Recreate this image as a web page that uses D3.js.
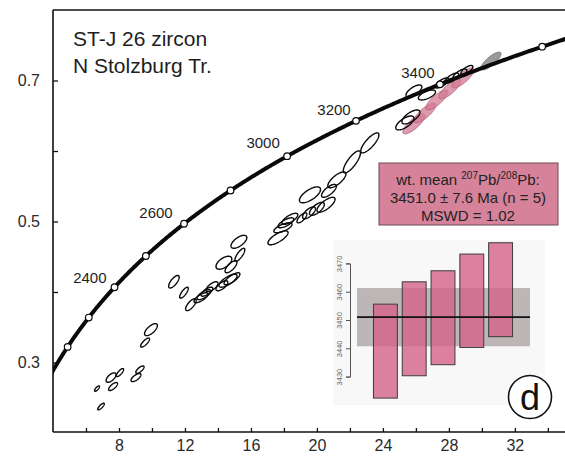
<!DOCTYPE html>
<html>
<head>
<meta charset="utf-8">
<script src="https://cdn.jsdelivr.net/npm/d3@7/dist/d3.min.js"></script>
<style>
  html, body { margin: 0; padding: 0; background: #fff; }
  svg { display: block; font-family: "Liberation Sans", Arial, Helvetica, sans-serif; }
</style>
</head>
<body>
<svg id="chart" width="565" height="465"></svg>
<script>
// U decay constants (1/yr)
const LAMBDA_238 = 1.55125e-10;
const LAMBDA_235 = 9.8485e-10;

// axes
const xTicks = [6, 8, 10, 12, 14, 16, 18, 20, 22, 24, 26, 28, 30, 32, 34];
const xLabels = [8, 12, 16, 20, 24, 28, 32];
const yTicks = [0.3, 0.4, 0.5, 0.6, 0.7];
const yLabels = [0.3, 0.5, 0.7];

// concordia age marks (Ma)
const concordiaMarkAges = [1800, 2000, 2200, 2400, 2600, 2800, 3000, 3200, 3400, 3600];
const concordiaLabelAges = [2400, 2600, 3000, 3200, 3400];

// analyses: [207Pb/235U, 206Pb/238U, err 207/235, err 206/238, rho]
const grainsOpen = [
  [6.91, 0.2375, 0.20, 0.0047, 0.80],
  [6.67, 0.2630, 0.15, 0.0038, 0.75],
  [7.64, 0.2659, 0.27, 0.0057, 0.72],
  [7.52, 0.2786, 0.30, 0.0067, 0.62],
  [8.06, 0.2857, 0.22, 0.0057, 0.78],
  [9.03, 0.2786, 0.30, 0.0057, 0.68],
  [9.27, 0.2899, 0.25, 0.0052, 0.72],
  [9.58, 0.3282, 0.27, 0.0064, 0.78],
  [9.94, 0.3466, 0.39, 0.0085, 0.68],
  [11.33, 0.4146, 0.32, 0.0089, 0.72],
  [11.94, 0.3990, 0.26, 0.0078, 0.78],
  [12.36, 0.3820, 0.32, 0.0085, 0.72],
  [12.97, 0.3919, 0.42, 0.0071, 0.72],
  [13.15, 0.3962, 0.42, 0.0071, 0.72],
  [13.33, 0.4004, 0.36, 0.0064, 0.72],
  [13.64, 0.4075, 0.36, 0.0071, 0.68],
  [14.24, 0.4089, 0.36, 0.0071, 0.68],
  [14.61, 0.4160, 0.55, 0.0092, 0.74],
  [14.85, 0.4188, 0.48, 0.0085, 0.78],
  [14.36, 0.4415, 0.48, 0.0092, 0.58],
  [14.79, 0.4358, 0.36, 0.0085, 0.72],
  [15.33, 0.4528, 0.30, 0.0092, 0.78],
  [15.27, 0.4712, 0.48, 0.0092, 0.64],
  [17.64, 0.4769, 0.61, 0.0099, 0.74],
  [17.94, 0.4911, 0.55, 0.0071, 0.68],
  [18.12, 0.4982, 0.48, 0.0071, 0.72],
  [18.36, 0.5038, 0.48, 0.0078, 0.72],
  [19.09, 0.5052, 0.30, 0.0071, 0.72],
  [19.52, 0.5123, 0.39, 0.0085, 0.68],
  [20.00, 0.5180, 0.45, 0.0092, 0.68],
  [20.55, 0.5237, 0.55, 0.0106, 0.74],
  [19.58, 0.5378, 0.64, 0.0113, 0.68],
  [20.73, 0.5435, 0.45, 0.0092, 0.72],
  [21.21, 0.5591, 0.55, 0.0113, 0.74],
  [22.12, 0.5846, 0.52, 0.0156, 0.80],
  [23.21, 0.6115, 0.55, 0.0142, 0.80],
  [25.33, 0.6398, 0.55, 0.0099, 0.68],
  [25.70, 0.6483, 0.55, 0.0099, 0.68],
  [25.88, 0.6851, 0.48, 0.0085, 0.68],
  [26.67, 0.6795, 0.52, 0.0071, 0.62],
  [27.58, 0.6965, 0.42, 0.0071, 0.72],
  [28.18, 0.7035, 0.42, 0.0071, 0.72],
  [28.67, 0.7092, 0.42, 0.0071, 0.72],
  [29.09, 0.7149, 0.36, 0.0064, 0.72]
];
// analyses used in the weighted mean
const grainsMean = [
  [25.88, 0.6384, 0.67, 0.0142, 0.80],
  [26.55, 0.6540, 0.67, 0.0142, 0.80],
  [27.27, 0.6724, 0.67, 0.0142, 0.80],
  [28.06, 0.6880, 0.67, 0.0142, 0.80],
  [28.85, 0.7035, 0.67, 0.0142, 0.80]
];
const grainsGrey = [
  [30.55, 0.7276, 0.61, 0.0127, 0.80]
];

// weighted mean 207Pb/206Pb ages (Ma), 2 sigma
const barAges = [3439.0, 3446.9, 3450.8, 3456.8, 3460.7];
const barErrs = [16.6, 16.6, 16.6, 16.5, 16.6];
const meanAge = 3451.0;
const meanErr = 7.6;
const meanConf95 = 10.3;
const mswd = 1.02;
const insetTicks = [3430, 3440, 3450, 3460, 3470];

const svg = d3.select("#chart");
const W = 565, H = 465;
const plot = { left: 53, top: 10, right: 566, bottom: 433 };

const x = d3.scaleLinear().domain([4, 35.1]).range([plot.left, plot.right]);
const y = d3.scaleLinear().domain([0.2, 0.8]).range([plot.bottom, plot.top]);

svg.append("rect").attr("width", W).attr("height", H).attr("fill", "#fff");

svg.append("defs").append("clipPath").attr("id", "plotClip")
  .append("rect")
  .attr("x", plot.left).attr("y", plot.top)
  .attr("width", plot.right - plot.left).attr("height", plot.bottom - plot.top);

// faint panel behind the inset
svg.append("rect")
  .attr("x", 333).attr("y", 240).attr("width", 212).attr("height", 165)
  .attr("fill", "#f9f8f8");

// frame lines
const axisY = y(0.2) - 1;
svg.append("line").attr("x1", plot.left).attr("x2", W).attr("y1", plot.top).attr("y2", plot.top)
  .attr("stroke", "#111").attr("stroke-width", 1.6);

// x axis
const xAxis = d3.axisBottom(x)
  .tickValues(xTicks)
  .tickSizeInner(-4).tickSizeOuter(0).tickPadding(8)
  .tickFormat(d => xLabels.includes(d) ? d : "");
const gx = svg.append("g").attr("transform", `translate(0,${axisY})`).call(xAxis);
gx.select(".domain").attr("stroke", "#111").attr("stroke-width", 1.6)
  .attr("d", `M${plot.left},0H${W}`);
gx.selectAll(".tick line").attr("stroke", "#111").attr("stroke-width", 1.3);
gx.selectAll(".tick text").attr("font-size", 16).attr("fill", "#2a2a2a")
  .attr("font-family", "Liberation Sans, Arial, sans-serif");

// y axis
const yAxis = d3.axisLeft(y)
  .tickValues(yTicks)
  .tickSizeInner(-5).tickSizeOuter(0).tickPadding(13)
  .tickFormat(d => yLabels.some(v => Math.abs(v - d) < 1e-9) ? d3.format(".1f")(d) : "");
const gy = svg.append("g").attr("transform", `translate(${plot.left},0)`).call(yAxis);
gy.select(".domain").attr("stroke", "#111").attr("stroke-width", 1.6)
  .attr("d", `M0,${plot.top}V${axisY}`);
gy.selectAll(".tick line").attr("stroke", "#111").attr("stroke-width", 1.3);
gy.selectAll(".tick text").attr("font-size", 16).attr("fill", "#2a2a2a")
  .attr("font-family", "Liberation Sans, Arial, sans-serif");

// title
const title = svg.append("g").attr("font-size", 21).attr("fill", "#1e1e1e");
title.append("text").attr("x", 73).attr("y", 46).text("ST-J 26 zircon");
title.append("text").attr("x", 73).attr("y", 73).text("N Stolzburg Tr.");

// error ellipse outline from correlated errors
function ellipsePoints(d) {
  const [cx, cy, sx, sy, r] = d;
  const k = Math.sqrt(1 - r * r);
  return d3.range(72).map(i => {
    const t = i / 72 * 2 * Math.PI;
    return [cx + sx * Math.cos(t), cy + sy * (r * Math.cos(t) + k * Math.sin(t))];
  });
}
const ellLine = d3.line().x(p => x(p[0])).y(p => y(p[1])).curve(d3.curveLinearClosed);

const dataLayer = svg.append("g").attr("clip-path", "url(#plotClip)");

// mean-group and grey analyses
dataLayer.append("g").selectAll("path").data(grainsGrey).join("path")
  .attr("d", d => ellLine(ellipsePoints(d)))
  .attr("fill", "#8f8f8f").attr("fill-opacity", 0.9)
  .attr("stroke", "#6f6f6f").attr("stroke-width", 0.8);
dataLayer.append("g").selectAll("path").data(grainsMean).join("path")
  .attr("d", d => ellLine(ellipsePoints(d)))
  .attr("fill", "#d27a93").attr("fill-opacity", 0.75)
  .attr("stroke", "#b5637b").attr("stroke-width", 0.8);

// concordia
const concordia = t => [Math.exp(LAMBDA_235 * t * 1e6) - 1, Math.exp(LAMBDA_238 * t * 1e6) - 1];
const curveAges = d3.range(1500, 3720, 5);
dataLayer.append("path")
  .datum(curveAges.map(concordia))
  .attr("d", d3.line().x(p => x(p[0])).y(p => y(p[1])).curve(d3.curveBasis))
  .attr("fill", "none").attr("stroke", "#0a0a0a").attr("stroke-width", 4);

// open analyses
dataLayer.append("g").selectAll("path").data(grainsOpen).join("path")
  .attr("d", d => ellLine(ellipsePoints(d)))
  .attr("fill", "none").attr("stroke", "#0a0a0a").attr("stroke-width", 1.4);

// concordia age marks
dataLayer.append("g").selectAll("circle").data(concordiaMarkAges).join("circle")
  .attr("cx", t => x(concordia(t)[0]))
  .attr("cy", t => y(concordia(t)[1]))
  .attr("r", 3.3)
  .attr("fill", "#fff").attr("stroke", "#0a0a0a").attr("stroke-width", 1.2);

// age labels, offset from their marks
const labelOffset = { 2400: [-56, 27], 2600: [-28, -6], 3000: [-24, -8], 3200: [-22, -6], 3400: [-22, -6] };
svg.append("g").selectAll("text").data(concordiaLabelAges).join("text")
  .attr("x", t => x(concordia(t)[0]) + labelOffset[t][0])
  .attr("y", t => y(concordia(t)[1]) + labelOffset[t][1])
  .attr("text-anchor", "middle")
  .attr("font-size", 15).attr("fill", "#1e1e1e")
  .text(t => t);

// result box
const box = svg.append("g");
box.append("rect").attr("x", 379).attr("y", 163).attr("width", 179).attr("height", 62)
  .attr("fill", "#d6829a").attr("stroke", "#6a4a52").attr("stroke-width", 1);
const bt = box.append("g").attr("font-size", 15).attr("fill", "#222").attr("text-anchor", "middle");
const l1 = bt.append("text").attr("x", 468).attr("y", 185);
l1.append("tspan").text("wt. mean ");
l1.append("tspan").attr("font-size", 10).attr("dy", -6).text("207");
l1.append("tspan").attr("dy", 6).text("Pb/");
l1.append("tspan").attr("font-size", 10).attr("dy", -6).text("208");
l1.append("tspan").attr("dy", 6).text("Pb:");
bt.append("text").attr("x", 468).attr("y", 203)
  .text(`${meanAge.toFixed(1)} \u00b1 ${meanErr.toFixed(1)} Ma (n = ${barAges.length})`);
bt.append("text").attr("x", 468).attr("y", 221).text(`MSWD = ${mswd.toFixed(2)}`);

// inset: weighted mean bars
const iy = d3.scaleLinear().domain([3430, 3470]).range([376.6, 263.4]);
const ix = d3.scaleBand().domain(d3.range(barAges.length)).range([371, 515])
  .paddingInner(0.17).paddingOuter(0.085);
const inset = svg.append("g");

inset.append("rect")
  .attr("x", 357).attr("width", 173)
  .attr("y", iy(meanAge + meanConf95))
  .attr("height", iy(meanAge - meanConf95) - iy(meanAge + meanConf95))
  .attr("fill", "#bdb6b6");

inset.append("g").selectAll("rect").data(barAges).join("rect")
  .attr("x", (d, i) => ix(i))
  .attr("width", ix.bandwidth())
  .attr("y", (d, i) => iy(d + barErrs[i]))
  .attr("height", (d, i) => iy(d - barErrs[i]) - iy(d + barErrs[i]))
  .attr("fill", "#d4628a").attr("fill-opacity", 0.8)
  .attr("stroke", "#3c3c3c").attr("stroke-width", 1);

inset.append("line")
  .attr("x1", 357).attr("x2", 530)
  .attr("y1", iy(meanAge)).attr("y2", iy(meanAge))
  .attr("stroke", "#111").attr("stroke-width", 1.6);

const ia = d3.axisLeft(iy).tickValues(insetTicks).tickSize(4).tickPadding(3)
  .tickFormat(d3.format("d"));
const gia = inset.append("g").attr("transform", "translate(350,0)").call(ia);
gia.select(".domain").attr("stroke", "#555");
gia.selectAll(".tick line").attr("stroke", "#555");
gia.selectAll(".tick text")
  .attr("font-size", 7.5).attr("fill", "#666")
  .attr("font-family", "Liberation Sans, Arial, sans-serif")
  .attr("text-anchor", "middle").attr("dy", null)
  .attr("transform", "translate(-8,0) rotate(-90)")
  .attr("x", 0).attr("y", 0);

// panel letter
svg.append("circle").attr("cx", 530).attr("cy", 397).attr("r", 21.5)
  .attr("fill", "#fff").attr("stroke", "#111").attr("stroke-width", 1.6);
svg.append("text").attr("x", 530).attr("y", 410).attr("text-anchor", "middle")
  .attr("font-size", 36).attr("fill", "#111").text("d");
</script>
</body>
</html>
